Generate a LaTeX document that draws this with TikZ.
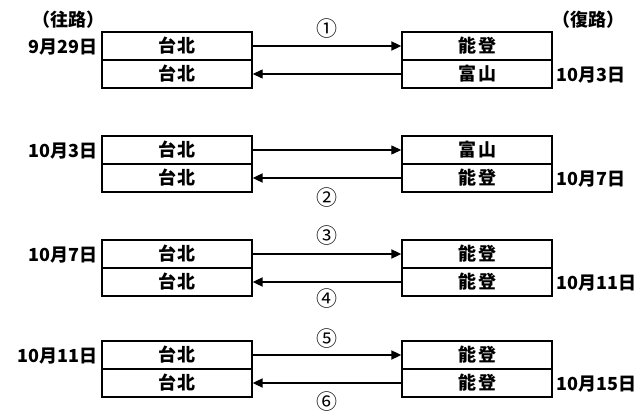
\documentclass[tikz,border=0pt]{standalone}
\usepackage{fontspec}
\setmainfont{Noto Sans CJK JP}
\usetikzlibrary{arrows.meta}
\begin{document}
\begin{tikzpicture}[x=1pt,y=-1pt,
  box/.style={draw,line width=1.4pt,minimum width=150pt,minimum height=28pt,inner sep=0pt,font=\bfseries\fontsize{18}{18}\selectfont},
  lbl/.style={inner sep=0pt,font=\bfseries\fontsize{18}{18}\selectfont},
  num/.style={inner sep=0pt,font=\fontsize{21}{21}\selectfont},
  thin arrow/.style={line width=1.3pt,-{Triangle[length=10pt,width=9pt]}},
  thick arrow/.style={line width=2pt,-{Triangle[length=10pt,width=9pt]}}]
\useasboundingbox (0,0) rectangle (641,414);
% group 1
\node[box] (a1) at (177,46) {台\kern2pt 北};
\node[box] (a2) at (177,74) {台\kern2pt 北};
\node[box] (b1) at (477,46) {能\kern2pt 登};
\node[box] (b2) at (477,74) {富\kern2pt 山};
\node[lbl] (t1) at (68,20) {（往路）};
\node[lbl] (t2) at (588,20) {（復路）};
\node[lbl,anchor=east] (d1) at (98,47) {9月29日};
\node[lbl,anchor=west] (e1) at (556,75) {10月3日};
\node[num] (n1) at (327,29) {①};
\draw[thick arrow] (a1.east) -- (b1.west);
\draw[thin arrow] (b2.west) -- (a2.east);
% group 2
\node[box] (a3) at (177,150) {台\kern2pt 北};
\node[box] (a4) at (177,178) {台\kern2pt 北};
\node[box] (b3) at (477,150) {富\kern2pt 山};
\node[box] (b4) at (477,178) {能\kern2pt 登};
\node[lbl,anchor=east] (d2) at (98,151) {10月3日};
\node[lbl,anchor=west] (e2) at (556,179) {10月7日};
\node[num] (n2) at (327,198) {②};
\draw[thin arrow] (a3.east) -- (b3.west);
\draw[thick arrow] (b4.west) -- (a4.east);
% group 3
\node[box] (a5) at (177,254) {台\kern2pt 北};
\node[box] (a6) at (177,282) {台\kern2pt 北};
\node[box] (b5) at (477,254) {能\kern2pt 登};
\node[box] (b6) at (477,282) {能\kern2pt 登};
\node[lbl,anchor=east] (d3) at (98,255) {10月7日};
\node[lbl,anchor=west] (e3) at (556,283) {10月11日};
\node[num] (n3) at (327,236) {③};
\node[num] (n4) at (327,299) {④};
\draw[thick arrow] (a5.east) -- (b5.west);
\draw[thick arrow] (b6.west) -- (a6.east);
% group 4
\node[box] (a7) at (177,355) {台\kern2pt 北};
\node[box] (a8) at (177,383) {台\kern2pt 北};
\node[box] (b7) at (477,355) {能\kern2pt 登};
\node[box] (b8) at (477,383) {能\kern2pt 登};
\node[lbl,anchor=east] (d4) at (98,356) {10月11日};
\node[lbl,anchor=west] (e4) at (556,384) {10月15日};
\node[num] (n5) at (327,339) {⑤};
\node[num] (n6) at (327,402) {⑥};
\draw[thick arrow] (a7.east) -- (b7.west);
\draw[thick arrow] (b8.west) -- (a8.east);
\end{tikzpicture}
\end{document}
